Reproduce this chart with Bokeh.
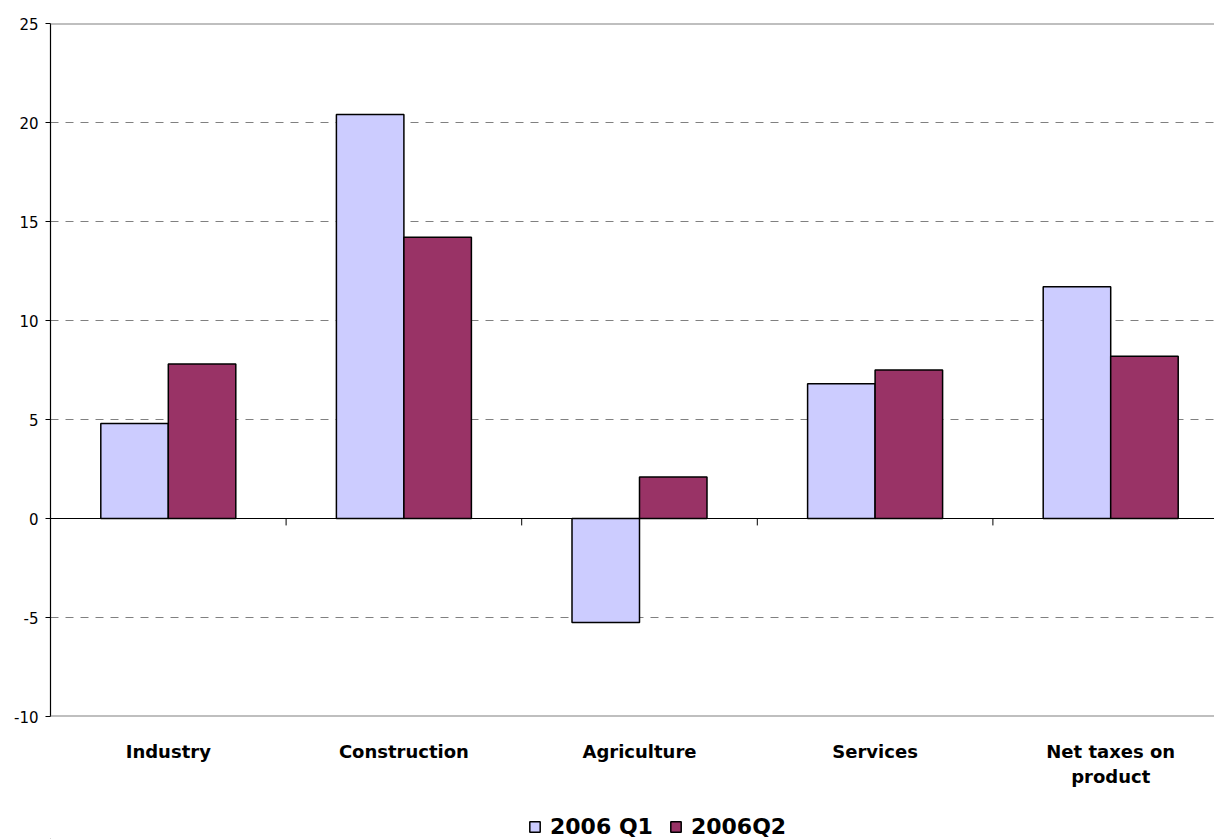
from bokeh.plotting import figure
from bokeh.layouts import column
from bokeh.models import (ColumnDataSource, FixedTicker, Span, Legend, LegendItem, Range1d)
from bokeh.embed import file_html
from bokeh.resources import INLINE

categories = ["Industry", "Construction", "Agriculture", "Services", "Net taxes on\nproduct"]
q1 = [4.8, 20.4, -5.25, 6.8, 11.7]
q2 = [7.8, 14.2, 2.1, 7.5, 8.2]
series_names = ["2006 Q1", "2006Q2"]
colors = ["#CCCCFF", "#993366"]
y_ticks = [-10, -5, 0, 5, 10, 15, 20, 25]

n = len(categories)
centers = [i + 0.5 for i in range(n)]
bar_w = 0.2865
src = ColumnDataSource(dict(
    x1=[c - bar_w / 2 for c in centers],
    x2=[c + bar_w / 2 for c in centers],
    q1=q1, q2=q2))

p = figure(width=1214, height=790, output_backend="svg", toolbar_location=None,
           x_range=Range1d(0, 1164 / 235.6), y_range=Range1d(-10, 25),
           min_border_left=50, min_border_right=0, min_border_top=23, min_border_bottom=74)
p.outline_line_color = None
p.background_fill_color = "white"
p.border_fill_color = "white"

# grid
p.xgrid.visible = False
p.ygrid.ticker = FixedTicker(ticks=y_ticks)
p.ygrid.grid_line_color = "#808080"
p.ygrid.grid_line_dash = "8 7"
p.ygrid.grid_line_width = 1

# frame top / bottom
p.add_layout(Span(location=25, dimension="width", line_color="#808080", line_width=2))
p.add_layout(Span(location=-10, dimension="width", line_color="#808080", line_width=2))

p.vbar(x="x1", top="q1", bottom=0, width=bar_w, source=src,
       fill_color=colors[0], line_color="black", line_width=1.5)
p.vbar(x="x2", top="q2", bottom=0, width=bar_w, source=src,
       fill_color=colors[1], line_color="black", line_width=1.5)

# zero line and category boundary ticks
p.add_layout(Span(location=0, dimension="width", line_color="black", line_width=1.2))
bounds = list(range(1, n))
p.segment(x0=bounds, x1=bounds, y0=[0] * len(bounds), y1=[-0.35] * len(bounds),
          line_color="black", line_width=1)

# y axis
p.yaxis.ticker = FixedTicker(ticks=y_ticks)
p.yaxis.major_label_overrides = {t: str(t) for t in y_ticks}
p.yaxis.axis_line_color = "black"
p.yaxis.axis_line_width = 1.2
p.yaxis.major_tick_out = 5
p.yaxis.major_tick_in = 0
p.yaxis.minor_tick_line_color = None
p.yaxis.major_label_text_font = "DejaVu Sans"
p.yaxis.major_label_text_font_size = "15px"
p.yaxis.major_label_text_color = "black"
p.yaxis.major_label_standoff = 7

# x axis
p.xaxis.ticker = FixedTicker(ticks=centers)
p.xaxis.major_label_overrides = {c: lab for c, lab in zip(centers, categories)}
p.xaxis.axis_line_color = None
p.xaxis.major_tick_line_color = None
p.xaxis.minor_tick_line_color = None
p.xaxis.major_label_text_font = "DejaVu Sans"
p.xaxis.major_label_text_font_style = "bold"
p.xaxis.major_label_text_font_size = "18px"
p.xaxis.major_label_text_color = "black"
p.xaxis.major_label_standoff = 18

# legend in its own strip below (proxy renderers sit outside the visible range)
lg = figure(width=1214, height=49, output_backend="svg", toolbar_location=None,
            x_range=Range1d(0, 1), y_range=Range1d(0, 1),
            min_border_left=0, min_border_right=0, min_border_top=0, min_border_bottom=0)
lg.axis.visible = False
lg.grid.visible = False
lg.outline_line_color = None
lg.border_fill_color = "white"
proxy = ColumnDataSource(dict(x=[-5], top=[-5]))
items = []
for name, col in zip(series_names, colors):
    rr = lg.vbar(x="x", top="top", bottom=-6, width=0.1, source=proxy, fill_color=col,
                 line_color="black", line_width=1.5)
    items.append(LegendItem(label=name, renderers=[rr]))
legend = Legend(items=items, orientation="horizontal", location=(478, 0),
                label_text_font="DejaVu Sans", label_text_font_style="bold",
                label_text_font_size="22px", label_text_color="black",
                glyph_width=13, glyph_height=13, spacing=16, label_standoff=9,
                border_line_color=None, background_fill_alpha=0, margin=0, padding=2)
lg.add_layout(legend, "center")

layout = column(p, lg, spacing=0)
open("out.html", "w").write(file_html(layout, INLINE))
